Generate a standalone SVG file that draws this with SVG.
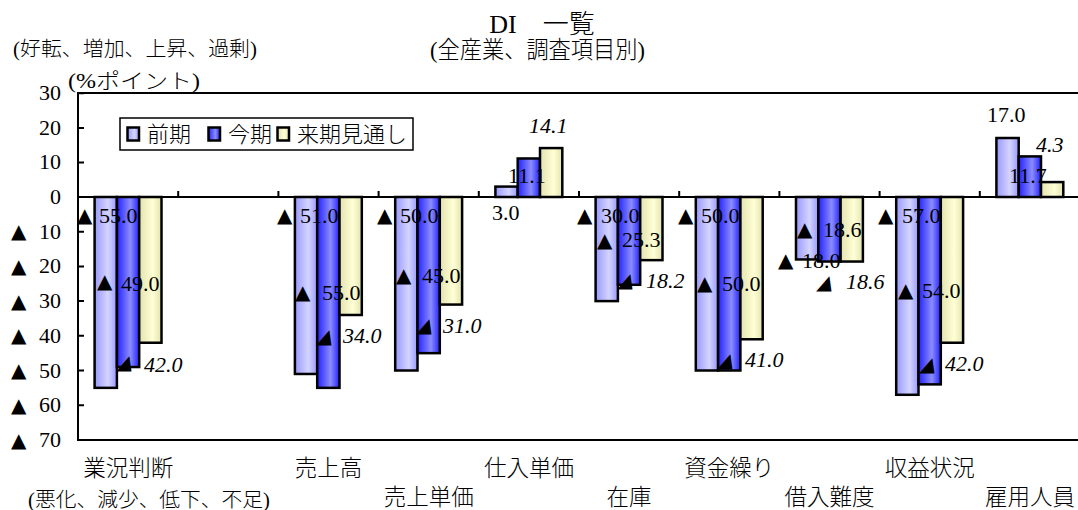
<svg xmlns="http://www.w3.org/2000/svg" width="1078" height="510" viewBox="0 0 1078 510">
<style>
.num{font-family:"Liberation Serif","DejaVu Serif",serif;font-size:22px;fill:#000}
.it{font-style:italic}
.tri{font-family:"DejaVu Sans",sans-serif;font-size:20px;fill:#000}
.jp{font-family:"Liberation Serif","Noto Sans CJK JP",serif;font-weight:300;fill:#000}
.cat{font-family:"Noto Sans CJK JP",sans-serif;font-weight:300;font-size:22.5px;text-anchor:middle;fill:#000}
.ax{stroke:#000;stroke-width:2;fill:none}
.b1{fill:url(#g1);stroke:#000;stroke-width:2.5}
.b2{fill:url(#g2);stroke:#000;stroke-width:2.5}
.b3{fill:url(#g3);stroke:#000;stroke-width:2.5}
.yl{font-family:"Liberation Serif","DejaVu Serif",serif;font-size:22px;text-anchor:end;fill:#000}
</style>
<defs>
<linearGradient id="g1" x1="0" y1="0" x2="1" y2="0"><stop offset="0" stop-color="#9999FF"/><stop offset="0.6" stop-color="#D4D4FF"/><stop offset="1" stop-color="#9999FF"/></linearGradient>
<linearGradient id="g2" x1="0" y1="0" x2="1" y2="0"><stop offset="0" stop-color="#2222FF"/><stop offset="0.6" stop-color="#8C8CFF"/><stop offset="1" stop-color="#2222FF"/></linearGradient>
<linearGradient id="g3" x1="0" y1="0" x2="1" y2="0"><stop offset="0" stop-color="#E2E2B0"/><stop offset="0.6" stop-color="#FFFFD6"/><stop offset="1" stop-color="#E2E2B0"/></linearGradient>
</defs>
<rect width="1078" height="510" fill="#fff"/>

<g id="titles">
<text class="jp" x="542" y="33" font-size="26" text-anchor="middle">DI　一覧</text>
<text class="jp" x="430" y="58" font-size="24" textLength="215" lengthAdjust="spacingAndGlyphs">(全産業、調査項目別)</text>
<text class="jp" x="13" y="56" font-size="20.5" textLength="244" lengthAdjust="spacingAndGlyphs">(好転、増加、上昇、過剰)</text>
<text class="jp" x="68" y="88" font-size="21" textLength="132" lengthAdjust="spacingAndGlyphs">(%ポイント)</text>
<text class="jp" x="28" y="507" font-size="20.5" textLength="242" lengthAdjust="spacingAndGlyphs">(悪化、減少、低下、不足)</text>
</g>

<g id="axes">
<rect class="ax" x="78" y="93" width="1010" height="347"/>
<line class="ax" x1="78" y1="197" x2="1078" y2="197"/>
<path class="ax" d="M78 93.3h6M78 128h6M78 162.4h6M78 231.7h6M78 266.4h6M78 301.1h6M78 335.8h6M78 370.5h6M78 405.2h6M178.2 197v-6M278.4 197v-6M378.6 197v-6M478.8 197v-6M579 197v-6M679.2 197v-6M779.4 197v-6M879.6 197v-6M979.8 197v-6"/>
<text class="yl" x="61" y="100">30</text>
<text class="yl" x="61" y="134.5">20</text>
<text class="yl" x="61" y="169">10</text>
<text class="yl" x="61" y="204">0</text>
<text class="yl" x="61" y="238.5">10</text>
<text class="yl" x="61" y="273">20</text>
<text class="yl" x="61" y="308">30</text>
<text class="yl" x="61" y="342.5">40</text>
<text class="yl" x="61" y="377.5">50</text>
<text class="yl" x="61" y="412">60</text>
<text class="yl" x="61" y="447">70</text>
<text class="tri" x="11" y="238">▲</text>
<text class="tri" x="11" y="273">▲</text>
<text class="tri" x="11" y="307.5">▲</text>
<text class="tri" x="11" y="342">▲</text>
<text class="tri" x="11" y="377">▲</text>
<text class="tri" x="11" y="411.5">▲</text>
<text class="tri" x="11" y="446.5">▲</text>
</g>

<g id="legend">
<rect x="120" y="118" width="293" height="32" fill="#fff" stroke="#000" stroke-width="1.5"/>
<rect class="b1" x="127.5" y="127.5" width="11.5" height="13" stroke-width="2"/>
<text class="jp" x="147" y="141.5" font-size="22">前期</text>
<rect class="b2" x="208.5" y="127.5" width="11.5" height="13" stroke-width="2"/>
<text class="jp" x="228" y="141.5" font-size="22">今期</text>
<rect class="b3" x="277.5" y="127.5" width="11.5" height="13" stroke-width="2"/>
<text class="jp" x="297" y="141.5" font-size="22">来期見通し</text>
</g>

<g id="cat-gyokyo">
<rect class="b1" x="94.6" y="197" width="22.3" height="190.85"/>
<rect class="b2" x="116.9" y="197" width="22.3" height="170.03"/>
<rect class="b3" x="139.2" y="197" width="22.3" height="145.74"/>
<text class="cat" x="128.2" y="476">業況判断</text>
</g>
<g id="cat-uriage">
<rect class="b1" x="294.9" y="197" width="22.3" height="176.97"/>
<rect class="b2" x="317.2" y="197" width="22.3" height="190.85"/>
<rect class="b3" x="339.5" y="197" width="22.3" height="117.98"/>
<text class="cat" x="328.5" y="476">売上高</text>
</g>
<g id="cat-uritanka">
<rect class="b1" x="395.2" y="197" width="22.3" height="173.5"/>
<rect class="b2" x="417.5" y="197" width="22.3" height="156.15"/>
<rect class="b3" x="439.8" y="197" width="22.3" height="107.57"/>
<text class="cat" x="428.7" y="505">売上単価</text>
</g>
<g id="cat-shiire">
<rect class="b1" x="495.4" y="186.59" width="22.3" height="10.41"/>
<rect class="b2" x="517.7" y="158.48" width="22.3" height="38.52"/>
<rect class="b3" x="540" y="148.07" width="22.3" height="48.93"/>
<text class="cat" x="528.9" y="476">仕入単価</text>
</g>
<g id="cat-zaiko">
<rect class="b1" x="595.6" y="197" width="22.3" height="104.1"/>
<rect class="b2" x="617.9" y="197" width="22.3" height="87.79"/>
<rect class="b3" x="640.2" y="197" width="22.3" height="63.15"/>
<text class="cat" x="629.1" y="505">在庫</text>
</g>
<g id="cat-shikin">
<rect class="b1" x="695.8" y="197" width="22.3" height="173.5"/>
<rect class="b2" x="718.1" y="197" width="22.3" height="173.5"/>
<rect class="b3" x="740.4" y="197" width="22.3" height="142.27"/>
<text class="cat" x="729.3" y="476">資金繰り</text>
</g>
<g id="cat-kariire">
<rect class="b1" x="796" y="197" width="22.3" height="62.46"/>
<rect class="b2" x="818.3" y="197" width="22.3" height="64.54"/>
<rect class="b3" x="840.6" y="197" width="22.3" height="64.54"/>
<text class="cat" x="829.5" y="505">借入難度</text>
</g>
<g id="cat-shueki">
<rect class="b1" x="896.2" y="197" width="22.3" height="197.79"/>
<rect class="b2" x="918.5" y="197" width="22.3" height="187.38"/>
<rect class="b3" x="940.8" y="197" width="22.3" height="145.74"/>
<text class="cat" x="929.7" y="476">収益状況</text>
</g>
<g id="cat-koyo">
<rect class="b1" x="996.4" y="138.01" width="22.3" height="58.99"/>
<rect class="b2" x="1018.7" y="156.4" width="22.3" height="40.6"/>
<rect class="b3" x="1041" y="182.08" width="22.3" height="14.92"/>
<text class="cat" x="1029.9" y="505">雇用人員</text>
</g>

<g id="labels">
<text class="tri" x="77" y="222">▲</text><text class="num" x="99" y="223">55.0</text>
<text class="tri" x="97" y="288">▲</text><text class="num" x="121" y="291">49.0</text>
<text class="tri" transform="translate(117 369) skewX(-20)">▲</text><text class="num it" x="144" y="372">42.0</text>

<text class="tri" x="277" y="222">▲</text><text class="num" x="300" y="223">51.0</text>
<text class="tri" x="295" y="299">▲</text><text class="num" x="322" y="300">55.0</text>
<text class="tri" transform="translate(317 343) skewX(-20)">▲</text><text class="num it" x="343" y="343">34.0</text>

<text class="tri" x="377" y="222">▲</text><text class="num" x="400" y="223">50.0</text>
<text class="tri" x="396" y="282">▲</text><text class="num" x="422" y="283">45.0</text>
<text class="tri" transform="translate(417 332) skewX(-20)">▲</text><text class="num it" x="443" y="333">31.0</text>

<text class="num" x="492" y="220">3.0</text>
<text class="num" x="508" y="183">11.1</text>
<text class="num it" x="529" y="133">14.1</text>

<text class="tri" x="577" y="222">▲</text><text class="num" x="601" y="223">30.0</text>
<text class="tri" x="597" y="247">▲</text><text class="num" x="622" y="247">25.3</text>
<text class="tri" transform="translate(618 287) skewX(-20)">▲</text><text class="num it" x="646" y="288">18.2</text>

<text class="tri" x="678" y="222">▲</text><text class="num" x="701" y="223">50.0</text>
<text class="tri" x="697" y="290">▲</text><text class="num" x="722" y="291">50.0</text>
<text class="tri" transform="translate(718 367) skewX(-20)">▲</text><text class="num it" x="745" y="367">41.0</text>

<text class="tri" x="778" y="267">▲</text><text class="num" x="802" y="268">18.0</text>
<text class="tri" x="797" y="236">▲</text><text class="num" x="823" y="237">18.6</text>
<text class="tri" transform="translate(817 289) skewX(-20)">▲</text><text class="num it" x="846" y="289">18.6</text>

<text class="tri" x="878" y="222">▲</text><text class="num" x="902" y="223">57.0</text>
<text class="tri" x="898" y="297">▲</text><text class="num" x="922" y="298">54.0</text>
<text class="tri" transform="translate(920 371) skewX(-20)">▲</text><text class="num it" x="945" y="371">42.0</text>

<text class="num" x="987" y="122">17.0</text>
<text class="num" x="1009" y="183">11.7</text>
<text class="num it" x="1036" y="152">4.3</text>
</g>
</svg>
